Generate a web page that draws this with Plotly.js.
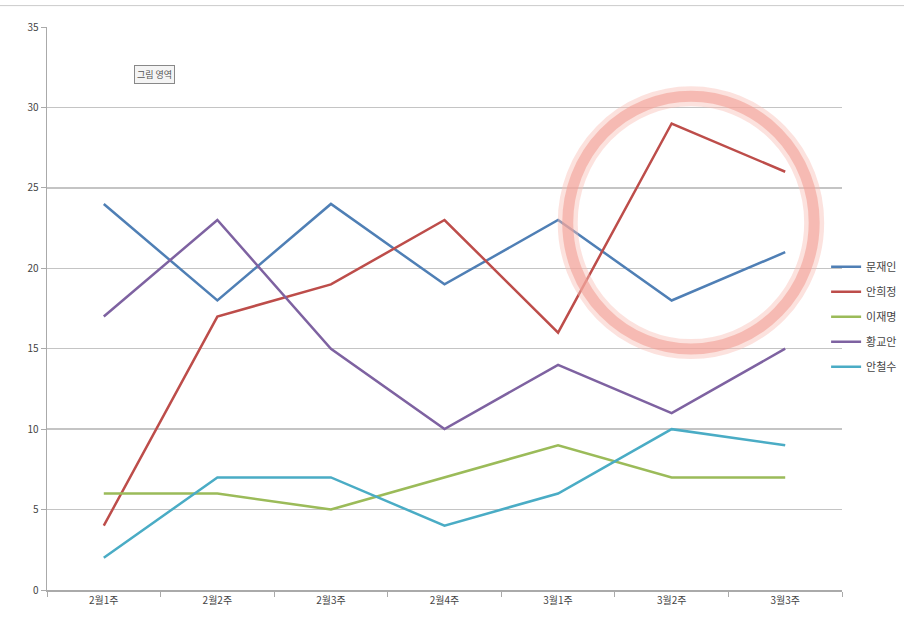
<!DOCTYPE html>
<html><head><meta charset="utf-8">
<script src="https://cdn.plot.ly/plotly-3.0.1.min.js"></script>
<style>html,body{margin:0;padding:0;background:#fff}#chart{width:904px;height:621px}</style>
</head><body><div id="chart"></div>
<script>
const categories = ["2월1주","2월2주","2월3주","2월4주","3월1주","3월2주","3월3주"];
const seriesNames = ["문재인","안희정","이재명","황교안","안철수"];
const moonJaein = [24,18,24,19,23,18,21];
const ahnHeejung = [4,17,19,23,16,29,26];
const leeJaemyung = [6,6,5,7,9,7,7];
const hwangKyoahn = [17,23,15,10,14,11,15];
const ahnCheolsoo = [2,7,7,4,6,10,9];
const yTicks = [0,5,10,15,20,25,30,35];
const colors = ["#4f7fb5","#bd4d4a","#9bbb59","#7e62a1","#4aacc5"];
const values = [moonJaein, ahnHeejung, leeJaemyung, hwangKyoahn, ahnCheolsoo];

const font = "'Noto Sans CJK KR', 'Noto Sans', sans-serif";
const traces = values.map((v,i)=>({
  type:"scatter", mode:"lines", x:categories, y:v, name:seriesNames[i],
  legendgroup:"g"+i,
  line:{color:colors[i], width:2.5}
}));

const layout = {
  width:904, height:621,
  margin:{l:47, r:62, t:27, b:31, autoexpand:false},
  paper_bgcolor:"#fff", plot_bgcolor:"#fff",
  font:{family:font, color:"#444", size:10},
  showlegend:true,
  legend:{x:0.98, y:0.6, xanchor:"left", yanchor:"top", bgcolor:"rgba(0,0,0,0)",
          font:{size:11, color:"#444"}, itemwidth:30, tracegroupgap:6},
  xaxis:{type:"category", range:[-0.5,6.5], tickson:"boundaries", ticks:"outside",
         ticklen:5, tickcolor:"#aaa", showgrid:false, showline:true, linecolor:"#aaa",
         linewidth:1.5, zeroline:false, tickfont:{size:10, color:"#444"}, fixedrange:true},
  yaxis:{range:[0,35], tickvals:yTicks, ticks:"outside", ticklen:5, tickcolor:"#aaa",
         showgrid:true, gridcolor:"#c4c4c4", gridwidth:1.5, showline:true, linecolor:"#aaa",
         linewidth:1.5, zeroline:false, tickfont:{size:10, color:"#444"}},
  shapes:[
    {type:"line", xref:"paper", yref:"paper", x0:-0.06, x1:1.08, y0:1.038, y1:1.038,
     line:{color:"#ccc", width:1}},
    {type:"circle", xref:"paper", yref:"paper", x0:0.655, x1:0.965, y0:0.428, y1:0.877,
     line:{color:"rgba(248,190,182,0.45)", width:20}},
    {type:"circle", xref:"paper", yref:"paper", x0:0.655, x1:0.965, y0:0.428, y1:0.877,
     line:{color:"rgba(242,160,150,0.6)", width:11}}
  ],
  annotations:[
    {xref:"paper", yref:"paper", x:0.11, y:0.915, xanchor:"left", yanchor:"middle",
     text:"그림 영역", showarrow:false, font:{size:9, color:"#555"},
     bordercolor:"#888", borderwidth:1, borderpad:2, bgcolor:"#f4f4f4"}
  ]
};
Plotly.newPlot("chart", traces, layout, {displayModeBar:false, staticPlot:true});
</script></body></html>
